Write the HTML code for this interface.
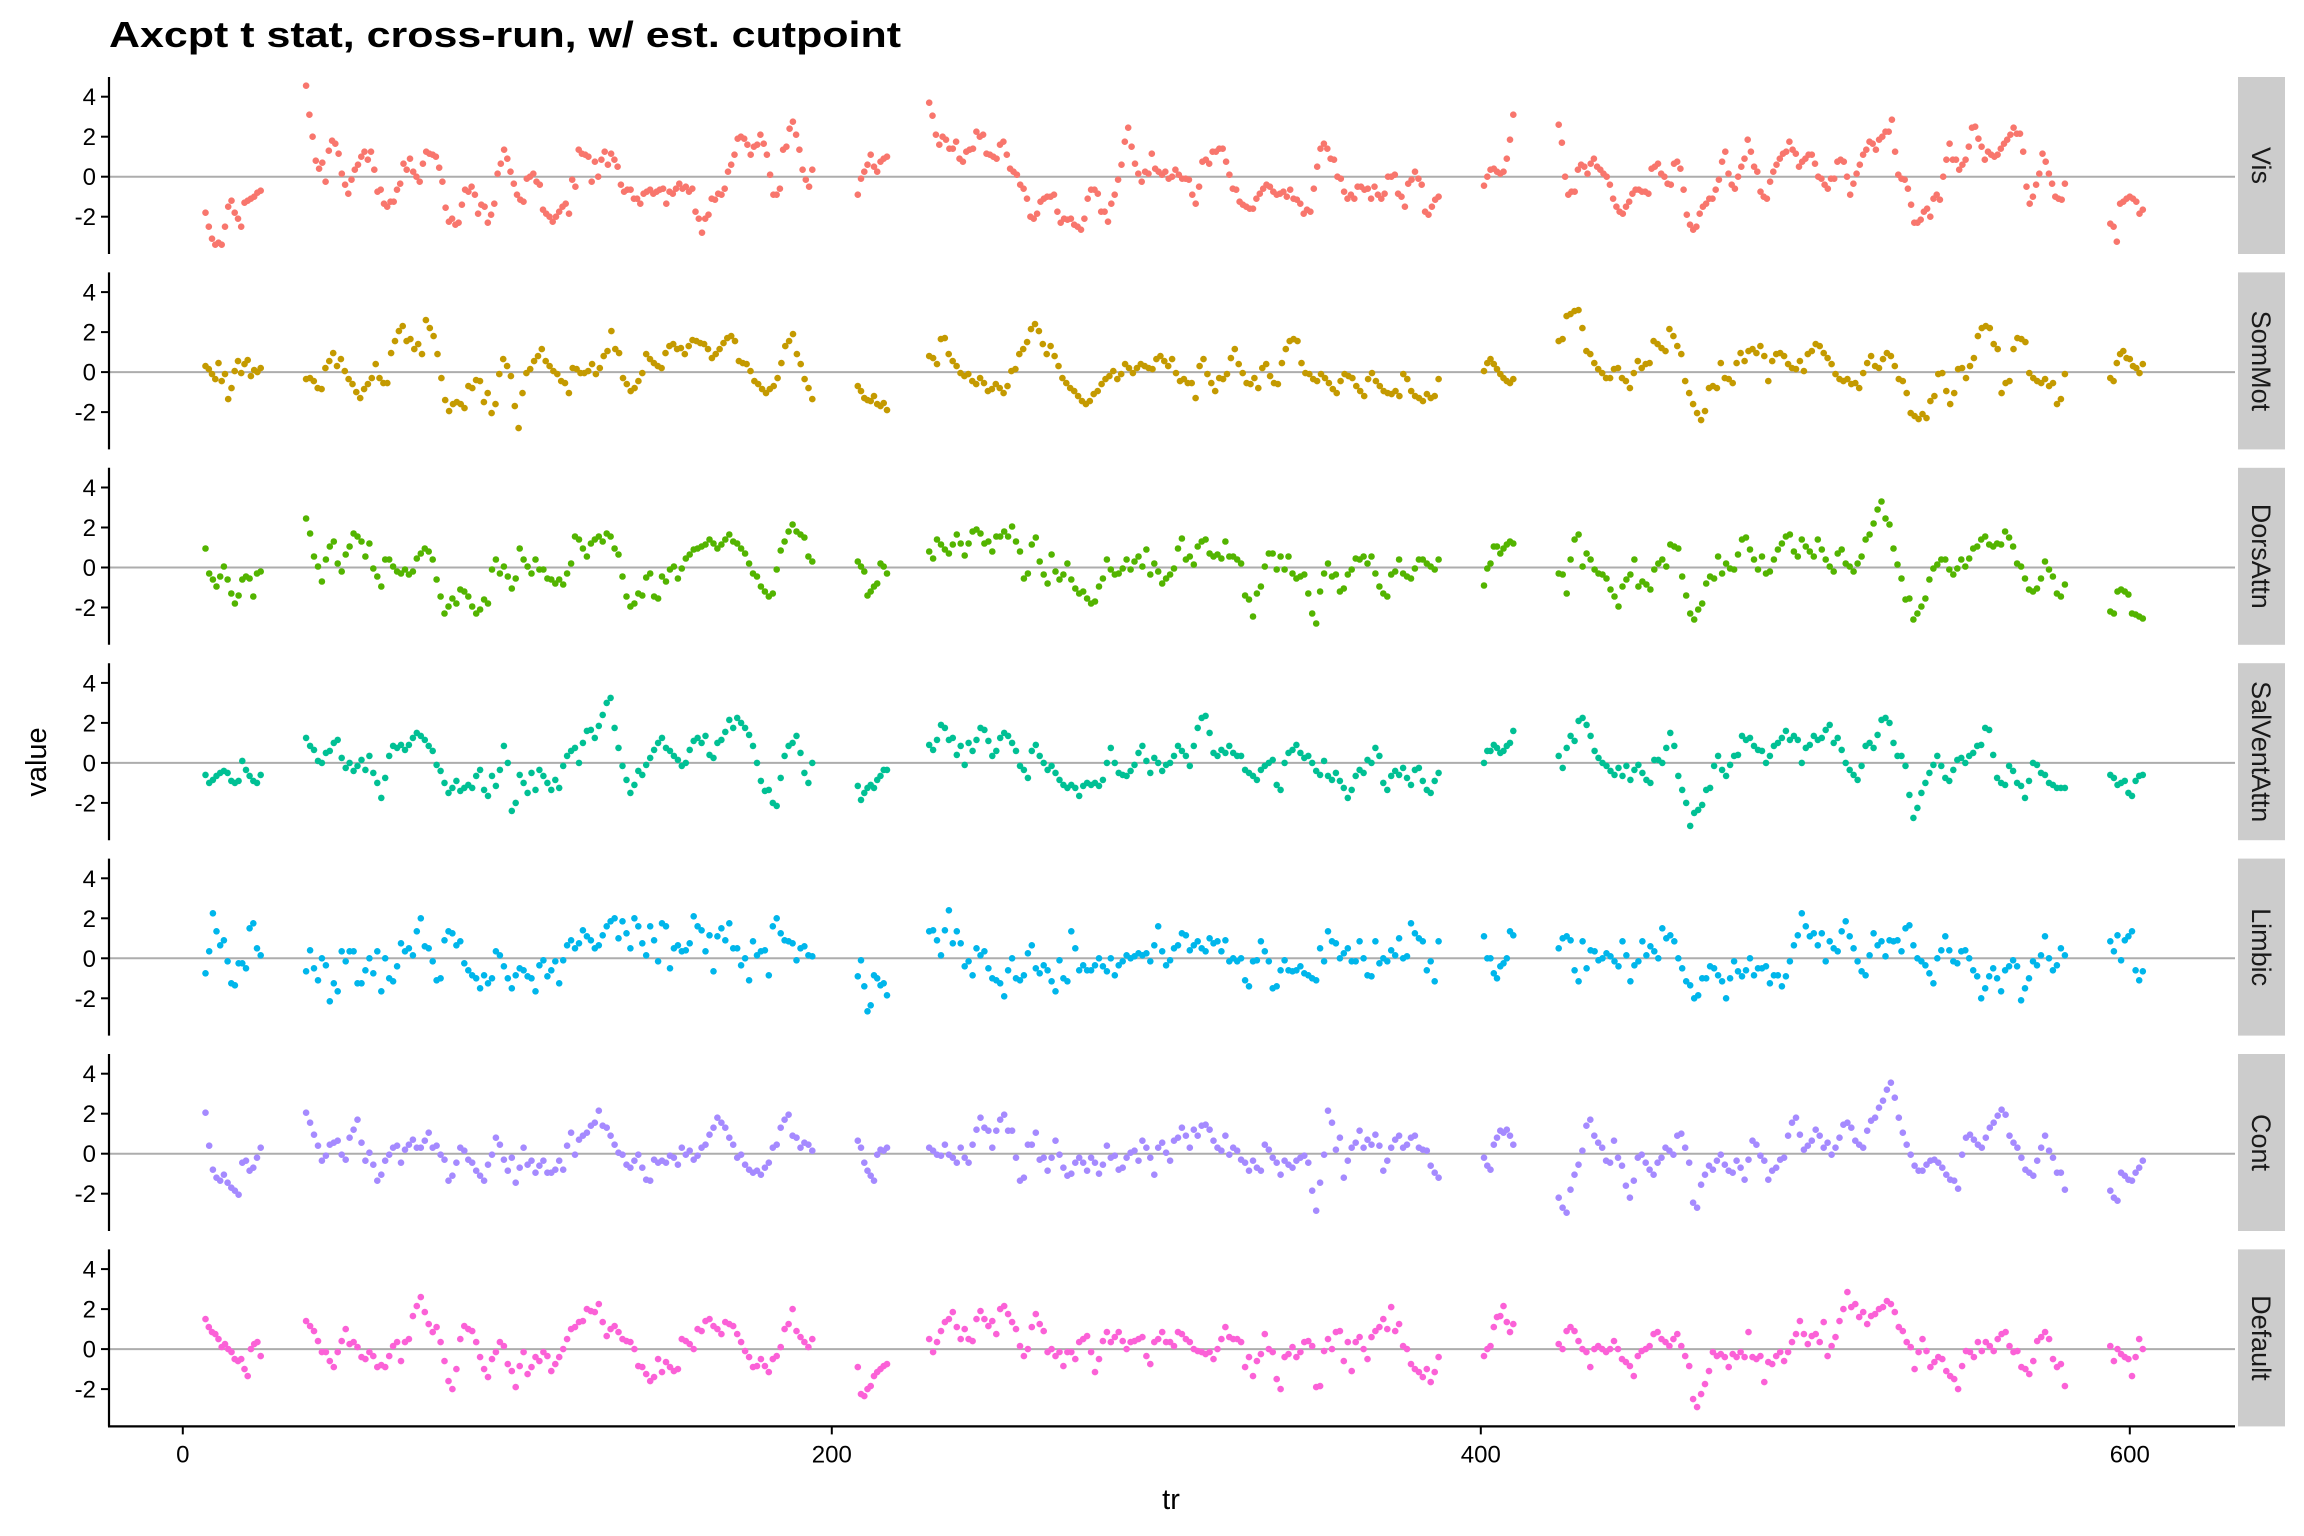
<!DOCTYPE html>
<html><head><meta charset="utf-8"><style>
html,body{margin:0;padding:0;background:#fff;}
svg{display:block;font-family:"Liberation Sans",Arial,sans-serif;}
</style></head><body>
<svg id="chart" width="2304" height="1536" viewBox="0 0 2304 1536" xmlns="http://www.w3.org/2000/svg">
<text x="109" y="47" font-size="36" font-weight="bold" fill="#000" textLength="792" lengthAdjust="spacingAndGlyphs">Axcpt t stat, cross-run, w/ est. cutpoint</text>
<text x="1171" y="1509" font-size="29" text-anchor="middle" fill="#000">tr</text>
<text x="0" y="0" font-size="29" text-anchor="middle" fill="#000" transform="translate(46,762) rotate(-90)">value</text>
</svg>
<script>
const panelNames = ["Vis","SomMot","DorsAttn","SalVentAttn","Limbic","Cont","Default"];
const panelColors = ["#F8766D","#C49A00","#53B400","#00C094","#00B6EB","#A58AFF","#FB61D7"];
const segStarts = [7,38,208,230,401,424,594];
const segEnds = [24,194,217,387,410,580,604];
const xTicks = [0,200,400,600];
const yTicks = [4,2,0,-2];

const visData = [
[-1.8,-2.5,-3.1,-3.4,-3.3,-3.4,-2.5,-1.5,-1.2,-1.8,-2.1,-2.5,-1.3,-1.2,-1.1,-1.0,-0.8,-0.7],
[4.55,3.1,2.0,0.8,0.4,0.7,-0.25,1.3,1.8,1.65,1.15,0.15,-0.4,-0.85,-0.15,0.35,0.6,1.0,1.25,0.85,1.25,0.35,-0.75,-0.65,-1.35,-1.5,-1.25,-1.25,-0.65,-0.35,0.65,0.35,0.9,0.25,0,-0.25,0.65,1.25,1.15,1.1,1.0,0.45,-0.25,-1.55,-2.25,-2.1,-2.4,-2.3,-1.4,-0.65,-0.75,-0.5,-0.9,-1.85,-1.4,-1.5,-2.3,-1.9,-1.35,0.15,0.65,1.35,0.9,0.25,-0.35,-0.9,-1.15,-1.25,-0.1,0,0.15,-0.25,-0.4,-1.65,-1.85,-2.0,-2.25,-2.0,-1.75,-1.5,-1.35,-1.85,-0.15,-0.5,1.35,1.15,1.1,1.0,-0.25,0.75,0,0.85,1.25,0.6,1.15,0.85,0.5,-0.4,-0.75,-0.65,-0.65,-1.1,-1.1,-1.35,-0.85,-0.75,-0.65,-0.85,-0.75,-0.65,-0.6,-1.35,-0.75,-0.85,-0.6,-0.35,-0.6,-0.5,-0.75,-0.6,-1.75,-2.1,-2.8,-2.1,-1.9,-1.1,-1.15,-0.85,-0.9,-0.6,0.25,0.6,1.1,1.9,2.0,1.9,1.6,1.1,1.5,1.6,2.1,1.65,1.1,0.1,-0.9,-0.9,-0.6,1.35,1.5,2.4,2.75,2.1,1.35,0.35,-0.15,-0.5,0.35],
[-0.9,-0.1,0.25,0.6,1.1,0.5,0.25,0.75,0.9,1.0],
[3.7,3.05,2.1,1.6,2.0,1.85,1.4,1.4,1.75,0.9,0.75,1.25,1.35,1.4,2.25,2.0,2.1,1.15,1.1,1.0,0.9,1.6,1.75,1.1,0.4,0.25,0.1,-0.4,-0.6,-1.1,-2.0,-2.1,-1.85,-1.25,-1.1,-1.0,-1.0,-0.9,-1.75,-2.3,-2.1,-2.15,-2.1,-2.4,-2.5,-2.65,-2.1,-1.1,-0.65,-0.65,-0.85,-1.75,-1.75,-2.25,-1.35,-0.9,-0.15,0.6,1.75,2.45,1.5,0.65,0.15,-0.25,0.25,0.15,1.15,0.4,0.25,0.1,0.25,-0.1,0,0.35,0.1,-0.1,-0.1,-0.15,-0.9,-1.35,-0.5,0.75,0.85,0.65,1.25,1.25,1.4,1.4,0.75,0.1,-0.6,-0.65,-1.25,-1.4,-1.5,-1.6,-1.6,-1.1,-0.85,-0.6,-0.4,-0.5,-0.75,-0.9,-0.85,-0.75,-1.0,-0.65,-1.1,-1.15,-1.35,-1.85,-1.65,-1.75,-0.6,0.5,1.4,1.65,1.4,0.9,0.85,0,-0.1,-0.75,-1.1,-0.9,-1.1,-0.5,-0.5,-0.65,-0.6,-1.1,-0.5,-0.9,-1.1,-0.85,0,0,0.1,-0.85,-1.0,-1.5,-0.35,-0.15,0.25,-0.1,-0.4,-1.75,-1.9,-1.5,-1.15,-1.0],
[-0.45,0,0.35,0.4,0.25,0.15,0.25,0.9,1.85,3.1],
[2.6,1.7,0,-0.9,-0.75,-0.75,0.35,0.6,0.5,0.15,0.65,0.9,0.5,0.35,0.15,0,-0.4,-1.1,-1.5,-1.75,-1.85,-1.5,-1.25,-0.85,-0.65,-0.65,-0.75,-0.75,-0.85,0.4,0.5,0.65,0.15,0,-0.35,-0.4,0.65,0.75,0.4,-0.65,-1.9,-2.4,-2.65,-2.5,-1.85,-1.5,-1.35,-1.1,-1.1,-0.65,-0.15,0.75,1.25,0.15,-0.4,-0.6,0,0.5,0.9,1.85,1.25,0.5,0.25,-0.75,-1.0,-1.1,-0.25,0.25,0.6,0.9,1.15,1.25,1.75,1.35,1.15,0.5,0.75,0.9,1.1,1.1,0.65,0,-0.1,-0.4,-0.6,-0.1,-0.1,0.75,0.85,0.75,0,-0.9,-0.35,0.15,0.6,1.1,1.35,1.75,1.65,1.35,1.85,2.0,2.25,2.25,2.85,1.25,0.1,-0.1,-0.15,-0.6,-1.4,-2.3,-2.3,-2.15,-1.75,-1.6,-2.0,-1.1,-0.9,-1.15,0,0.85,1.65,0.85,0.85,0.35,0.6,0.85,1.5,2.45,2.5,1.9,1.5,0.85,1.25,1.1,1.0,1.1,1.4,1.65,1.85,2.1,2.45,2.15,2.15,1.25,-0.5,-1.35,-1.0,-0.4,0.15,1.15,0.75,0.15,-0.35,-1.0,-1.1,-1.15,-0.35],
[-2.35,-2.5,-3.25,-1.35,-1.25,-1.1,-1.0,-1.1,-1.25,-1.85,-1.65]
];

const somMotData = [
[0.3,0.15,-0.1,-0.35,0.45,-0.45,-0.1,-1.35,-0.8,0.05,0.55,-0.05,0.4,0.6,-0.2,0.1,0.0,0.2],
[-0.35,-0.3,-0.45,-0.8,-0.85,0.2,0.55,0.95,0.3,0.65,0.05,-0.35,-0.6,-1.0,-1.3,-0.85,-0.6,-0.3,0.4,-0.3,-0.55,-0.55,0.95,1.55,2.05,2.3,1.55,1.65,1.15,1.4,0.9,2.6,2.2,1.8,0.9,-0.3,-1.4,-1.95,-1.6,-1.5,-1.6,-1.8,-0.7,-0.8,-0.4,-0.45,-1.5,-1.05,-2.05,-1.6,-0.1,0.65,0.3,-0.2,-1.7,-2.8,-1.05,-0.05,0.15,0.55,0.8,1.15,0.55,0.3,0.05,-0.1,-0.45,-0.55,-1.05,0.2,0.15,-0.05,-0.05,0.05,0.4,-0.1,0.2,0.8,1.05,2.05,1.15,0.95,-0.3,-0.6,-0.95,-0.8,-0.45,-0.05,0.9,0.65,0.45,0.3,0.2,0.95,1.3,1.4,1.15,1.2,0.9,1.3,1.6,1.55,1.45,1.4,1.15,0.7,0.9,1.15,1.45,1.7,1.8,1.55,0.55,0.45,0.4,0.05,-0.45,-0.6,-0.85,-1.05,-0.85,-0.7,-0.3,0.45,1.3,1.55,1.9,0.9,0.4,-0.35,-0.8,-1.35],
[-0.7,-0.95,-1.3,-1.4,-1.45,-1.2,-1.6,-1.7,-1.55,-1.9],
[0.8,0.7,0.4,1.65,1.7,0.9,0.55,0.3,-0.05,-0.2,-0.1,-0.45,-0.6,-0.3,-0.55,-0.95,-0.85,-0.6,-0.8,-1.05,-0.7,0.05,0.15,0.9,1.15,1.5,2.15,2.4,2.05,1.4,0.9,1.3,0.8,0.3,-0.3,-0.55,-0.8,-0.95,-1.2,-1.45,-1.6,-1.45,-1.1,-0.95,-0.6,-0.35,-0.2,0.05,-0.35,-0.1,0.4,0.2,-0.05,0.2,0.4,0.3,0.2,0.15,0.65,0.8,0.55,0.3,0.65,-0.05,-0.45,-0.35,-0.55,-0.55,-1.3,0.3,0.65,-0.1,-0.55,-0.95,-0.3,-0.35,-0.1,0.7,1.15,0.4,-0.05,-0.55,-0.6,-0.3,-0.8,0.2,0.4,-0.2,-0.55,-0.6,0.45,1.15,1.55,1.65,1.55,0.45,-0.05,-0.1,-0.35,-0.45,-0.1,-0.3,-0.55,-0.85,-1.05,-0.45,-0.1,-0.2,-0.3,-0.7,-0.95,-1.2,-0.35,-0.05,-0.45,-0.7,-0.95,-1.05,-1.1,-0.95,-1.2,-0.1,-0.35,-0.95,-1.2,-1.3,-1.45,-1.1,-1.3,-1.2,-0.35],
[0.05,0.45,0.65,0.4,0.15,-0.1,-0.3,-0.45,-0.55,-0.35],
[1.55,1.65,2.8,2.9,3.05,3.1,2.2,1.05,0.9,0.45,0.15,-0.05,-0.3,-0.3,0.15,0.2,-0.3,-0.45,-0.8,-0.05,0.55,0.2,0.4,0.45,1.55,1.4,1.2,1.05,2.15,1.8,1.3,0.9,-0.45,-1.05,-1.6,-2.05,-2.4,-1.95,-0.8,-0.7,-0.8,0.45,-0.3,-0.35,-0.55,0.45,0.95,0.55,1.05,1.15,0.95,1.3,0.8,-0.45,0.55,0.9,0.95,0.8,0.4,0.2,0.15,0.55,0.05,0.9,1.05,1.4,1.3,0.95,0.7,0.4,-0.1,-0.35,-0.45,-0.35,-0.6,-0.55,-0.8,-0.05,0.45,0.8,0.3,0.2,0.65,0.95,0.8,0.3,-0.35,-0.45,-1.05,-2.05,-2.2,-2.35,-2.1,-2.3,-1.45,-1.2,-0.1,-0.05,-0.95,-1.6,-1.05,0.15,0.2,-0.3,0.3,0.7,1.8,2.2,2.3,2.2,1.4,1.15,-1.05,-0.55,-0.45,1.15,1.7,1.65,1.5,-0.05,-0.3,-0.45,-0.55,-0.35,-0.7,-0.55,-1.6,-1.35,-0.1],
[-0.3,-0.45,0.45,0.9,1.05,0.7,0.65,0.3,0.2,-0.05,0.4]
];

const dorsAttnData = [
[0.95,-0.3,-0.6,-0.95,-0.45,0.05,-0.6,-1.3,-1.8,-1.4,-0.6,-0.45,-0.55,-1.45,-0.3,-0.2],
[2.45,1.7,0.55,0.05,-0.7,0.4,1.05,1.3,0.2,-0.2,0.65,1.05,1.7,1.55,1.3,0.55,1.2,-0.05,-0.45,-0.95,0.4,0.4,0.05,-0.2,-0.3,-0.1,-0.35,-0.2,0.45,0.7,0.95,0.8,0.4,-0.6,-1.45,-2.3,-1.95,-1.55,-1.8,-1.1,-1.2,-1.45,-1.95,-2.3,-2.1,-1.6,-1.8,-0.1,0.4,-0.3,0.05,-0.45,-1.05,-0.55,0.95,0.4,0.05,-0.3,0.4,-0.1,-0.1,-0.55,-0.6,-0.8,-0.6,-0.85,-0.3,0.2,1.55,1.4,0.95,0.55,1.2,1.4,1.55,1.3,1.7,1.55,0.95,0.65,-0.45,-1.45,-1.95,-1.8,-1.3,-1.4,-0.5,-0.3,-1.45,-1.55,-0.45,-0.7,-0.1,0.05,-0.55,-0.05,0.45,0.65,0.9,0.95,1.05,1.15,1.4,1.2,0.95,1.15,1.4,1.65,1.3,1.2,0.95,0.7,0.2,-0.3,-0.45,-0.95,-1.2,-1.45,-1.3,-0.1,0.85,1.3,1.8,2.15,1.8,1.65,1.5,0.55,0.3],
[0.3,0.05,-0.2,-1.4,-1.2,-0.95,-0.8,0.2,0.05,-0.3],
[0.8,0.45,1.4,1.15,0.9,0.7,1.15,1.65,1.2,0.6,1.2,1.8,1.9,1.7,1.2,1.3,0.8,1.55,1.55,1.8,1.55,2.05,1.3,0.8,-0.55,-0.3,1.15,1.5,0.3,-0.35,-0.8,0.65,-0.2,-0.6,-0.35,0.2,-0.6,-1.05,-1.3,-1.2,-1.55,-1.8,-1.7,-0.95,-0.55,0.4,-0.1,-0.35,-0.3,-0.05,0.4,-0.1,0.3,0.55,0.05,0.9,-0.35,0.2,-0.2,-0.8,-0.55,-0.35,-0.05,0.95,1.45,0.4,0.55,0.15,1.05,1.3,1.4,0.7,0.55,0.65,0.45,1.3,0.55,0.55,0.4,0.2,-1.4,-1.6,-2.45,-1.3,-0.95,0.05,0.7,0.7,-0.1,0.55,-0.1,0.55,-0.3,-0.55,-0.45,-0.35,-1.3,-2.3,-2.8,-1.2,-0.3,0.2,-0.45,-0.35,-1.2,-1.05,-0.35,-0.1,0.45,0.4,0.55,0.2,0.55,-0.3,-0.95,-1.3,-1.45,-0.35,-0.2,0.4,-0.3,-0.45,-0.55,-0.05,0.4,0.4,0.2,0.05,-0.1,0.4],
[-0.9,-0.05,0.2,1.05,1.05,0.7,0.95,1.15,1.3,1.2],
[-0.3,-0.35,-1.3,0.4,1.4,1.65,0.05,0.7,0.4,-0.1,-0.3,-0.35,-0.55,-1.1,-1.45,-1.95,-0.95,-0.6,-0.35,0.4,-0.95,-0.7,-0.85,-1.1,-0.1,0.2,0.4,0.05,1.15,1.05,0.95,-0.45,-1.4,-2.3,-2.6,-2.1,-1.8,-0.8,-0.45,-0.55,0.55,-0.3,0.2,-0.05,-0.1,0.65,1.4,1.5,0.9,0.4,-0.1,0.55,-0.3,-0.2,0.4,0.9,1.2,1.55,1.65,0.8,0.55,1.4,1.05,0.8,0.55,1.4,0.9,0.4,0.05,-0.2,0.7,0.9,0.2,0.05,-0.2,0.2,0.55,1.4,1.65,2.2,2.9,3.3,2.45,2.15,0.95,0.15,-0.55,-1.6,-1.55,-2.6,-2.3,-1.95,-1.55,-0.6,-0.05,0.15,0.4,0.4,-0.1,-0.35,-0.05,0.4,0.05,0.45,0.95,1.05,1.4,1.55,1.15,1.05,1.2,1.15,1.8,1.5,1.05,0.2,0.05,-0.55,-1.1,-1.2,-1.05,-0.55,0.3,-0.1,-0.45,-1.3,-1.45,-0.85],
[-2.2,-2.3,-1.2,-1.1,-1.2,-1.35,-2.3,-2.35,-2.45,-2.55]
];

const salVentData = [
[-0.6,-1.0,-0.85,-0.65,-0.5,-0.4,-0.5,-0.9,-1.0,-0.9,0.1,-0.35,-0.65,-0.9,-1.0,-0.6],
[1.25,0.85,0.65,0.1,0,0.5,0.6,1.0,1.15,0.25,-0.25,0,-0.4,-0.15,0.15,-0.35,0.35,-0.5,-1.0,-1.75,-0.75,0.35,0.85,0.75,0.9,0.65,0.9,1.25,1.5,1.35,1.15,0.85,0.6,-0.1,-0.4,-1.0,-1.5,-1.25,-0.9,-1.4,-1.25,-1.1,-1.25,-0.65,-0.35,-1.35,-1.65,-0.65,-1.15,-0.35,0.85,0,-2.4,-2.0,-0.6,-1.0,-1.5,-0.5,-1.35,-0.35,-0.65,-1.0,-1.35,-0.85,-1.25,-0.15,0.35,0.6,0.75,0,1.0,1.6,1.65,1.25,1.85,2.4,3.0,3.25,1.75,0.75,-0.15,-0.85,-1.5,-1.1,-0.4,-0.6,-0.1,0.25,0.65,1.0,1.25,0.75,0.6,0.35,0.15,-0.15,0,0.65,1.1,1.25,1.0,1.35,0.4,0.25,1.0,1.15,1.55,2.15,1.75,2.25,2.0,1.75,1.4,0.85,0,-0.9,-1.4,-1.35,-2.0,-2.15,-0.75,0.35,0.85,1.0,1.35,0.5,-0.5,-1.0,0],
[-1.15,-1.85,-1.5,-1.25,-1.1,-1.25,-0.85,-0.65,-0.35,-0.35],
[0.9,0.65,1.15,1.9,1.75,1.15,1.25,0.4,0.85,-0.1,1.0,0.6,1.15,1.75,1.65,1.1,0.35,0.6,1.25,1.5,1.35,1.0,0.6,-0.15,-0.35,-0.75,0.6,0.9,0.35,0,-0.35,-0.15,-0.5,-0.85,-1.1,-1.25,-1.1,-1.25,-1.65,-1.15,-1.0,-1.1,-1.0,-1.15,-0.85,0,0.75,0,-0.5,-0.6,-0.65,-0.4,-0.1,0.5,0.85,0.1,-0.5,0.25,0,-0.4,-0.1,0,0.35,0.85,0.6,0.35,-0.15,0.85,1.75,2.25,2.35,1.5,0.5,0.35,0.65,0.5,0.85,0.5,0.35,0.35,-0.35,-0.5,-0.65,-0.85,-0.35,-0.15,0,0.15,-1.1,-1.35,0,0.5,0.65,0.9,0.5,0.25,0.35,0,-0.4,-0.6,0.1,-0.65,-0.85,-0.5,-0.9,-1.25,-1.75,-1.35,-0.65,-0.35,-0.5,0.15,0,0.75,0.35,-1.0,-1.35,-0.65,-0.4,-0.6,-0.25,-0.75,-1.1,-0.35,-0.25,-0.9,-1.35,-1.5,-0.9,-0.5],
[0,0.6,0.6,0.9,0.75,0.5,0.6,0.85,1.0,1.6],
[0.35,-0.25,0.75,1.35,1.1,2.1,2.25,1.9,1.35,0.6,0.25,0,-0.15,-0.4,-0.6,-0.25,-0.65,-0.15,-0.85,-0.35,-0.1,-0.5,-0.85,-1.0,0.15,0.15,0,0.75,1.5,0.85,-0.65,-1.35,-2.0,-3.15,-2.5,-2.35,-2.1,-1.35,-1.25,-0.15,0.35,-0.35,-0.65,-0.1,0.35,0.4,1.35,1.15,1.25,0.85,0.65,0.6,0,0.35,0.85,1.0,1.25,1.6,1.15,1.35,1.15,0,0.75,0.9,1.35,1.15,1.25,1.65,1.9,1.0,1.25,0.65,0,-0.35,-0.6,-0.85,-0.15,0.85,1.0,0.75,1.4,2.15,2.25,2.0,1.0,0.35,0.35,-0.15,-1.6,-2.75,-2.25,-1.5,-1.0,-0.5,-0.1,0.35,-0.15,-0.75,-0.9,-0.35,0.15,0.25,0,0.35,0.5,0.85,0.9,1.75,1.65,0.4,-0.75,-1.0,-1.1,-0.15,-0.4,-1.0,-1.15,-1.75,-0.9,0,-0.1,-0.5,-0.6,-1.0,-1.1,-1.25,-1.25,-1.25],
[-0.6,-0.75,-1.1,-1.0,-0.9,-1.5,-1.65,-0.9,-0.65,-0.6]
];

const limbicData = [
[-0.75,0.35,2.25,1.35,0.65,0.9,-0.15,-1.25,-1.35,-0.25,-0.25,-0.5,1.5,1.75,0.5,0.15],
[-0.65,0.4,-0.5,-1.1,0,-0.35,-2.15,-1.25,-1.65,0.35,-0.15,0.35,0.35,-1.25,-1.25,-0.6,0,-0.75,0.35,-1.65,0,-1.0,-1.15,-0.4,0.75,0.35,0.5,0.15,1.35,2.0,0.6,0.5,-0.15,-1.1,-1.0,0.9,1.35,1.25,0.65,0.85,-0.25,-0.6,-0.85,-1.0,-1.5,-0.85,-1.25,-1.0,0.35,0.15,-0.4,-1.0,-1.5,-0.85,-0.5,-0.6,-0.9,-1.0,-1.65,-0.35,-0.1,-0.9,-0.6,-0.15,-1.25,-0.1,0.65,0.9,0.5,0.75,1.4,1.1,0.9,0.5,0.65,1.15,1.6,1.85,2.0,1.0,1.85,1.25,0.5,2.0,1.6,0.75,0.15,1.6,0.9,-0.15,1.75,1.6,-0.5,0.5,0.65,0.35,0.4,0.75,2.1,1.6,1.4,0.35,1.15,-0.65,1.1,1.5,0.9,1.75,0.5,0.5,-0.35,0,-1.1,0.85,0.15,0.35,0.4,-0.85,1.6,2.0,1.25,0.9,0.85,0.75,-0.1,0.5,0.6,0.15,0.1],
[-0.9,-0.1,-1.4,-2.65,-2.35,-0.85,-1.0,-1.35,-1.25,-1.85],
[1.35,1.4,0.9,0.15,1.4,2.4,0.75,1.35,0.75,-0.4,-0.15,-0.85,0.5,0.15,0.35,-0.5,-1.0,-1.1,-1.25,-1.9,-0.6,0,-1.0,-1.1,-0.85,0.25,0.65,-0.5,-0.75,-0.35,-0.6,-1.15,-1.65,-0.1,-1.0,-1.15,1.35,0.5,-0.6,-0.35,-0.6,-0.6,-0.35,0,-0.4,-0.65,0,-0.85,-0.35,-0.15,0.15,0,0.1,0.25,0.15,0.25,-0.15,0.65,1.6,0.35,-0.35,-0.1,0.5,0.65,1.25,1.15,0.4,0.65,0.85,0.5,0.35,1.0,0.75,0.85,0.35,0.9,-0.15,0,-0.15,0,-1.1,-1.4,-0.15,-0.1,0.85,0.35,-0.15,-1.5,-1.4,-0.6,-0.1,-0.6,-0.65,-0.6,-0.4,-0.75,-0.85,-1.0,-1.1,0.5,-0.15,1.35,0.85,0.75,0,0.25,0.5,-0.15,-0.15,0.85,0,-0.85,-0.9,0.85,-0.25,0,-0.15,0.4,0.15,1.0,0,0.1,1.75,1.25,1.0,0.85,-0.6,-0.15,-1.15,0.85],
[1.1,0,0,-0.75,-1.0,-0.4,-0.25,0,1.35,1.15],
[0.5,1.0,1.1,0.9,-0.6,-1.15,0.85,-0.5,0.4,0.35,-0.1,0,0.25,0.1,-0.15,-0.4,0.85,0.15,-1.15,-0.35,-0.15,0.85,0.15,0.6,0.35,0,1.5,1.0,1.15,0.85,0,-0.5,-1.15,-1.35,-2.0,-1.85,-1.0,-1.0,-0.4,-0.5,-0.85,-1.15,-2.0,-1.0,-0.15,-0.65,-0.9,-0.6,0,-0.85,-0.5,-0.5,-0.4,-1.25,-0.85,-0.85,-1.4,-0.9,-0.15,0.65,1.15,2.25,1.6,1.1,1.25,0.65,1.25,-0.15,0.85,0.5,0.35,1.35,1.85,1.1,0.5,-0.15,-0.65,-0.85,0.15,1.25,0.65,0.85,0.1,0.9,0.85,0.9,0.35,1.5,1.65,0.65,0,-0.15,-0.35,-0.75,-1.25,0,0.4,1.1,0.4,-0.15,-0.25,0.35,0.4,0,-0.6,-0.9,-2.0,-1.5,-0.9,-0.5,-1.0,-1.65,-0.6,-0.4,-0.1,-0.4,-2.1,-1.5,-1.0,-0.15,-0.35,0.15,1.1,0,-0.6,-0.35,0.5,0.15],
[0.85,0.35,1.15,-0.1,0.9,1.1,1.35,-0.6,-1.1,-0.65]
];

const contData = [
[2.05,0.4,-0.8,-1.2,-1.35,-1.05,-1.45,-1.7,-1.85,-2.05,-0.45,-0.35,-0.85,-0.7,-0.2,0.3],
[2.05,1.55,0.95,0.4,-0.35,-0.1,0.45,0.55,0.65,-0.05,-0.3,0.8,1.2,1.7,0.55,-0.35,0.05,-0.55,-1.35,-1.05,-0.35,-0.05,0.3,0.4,-0.45,0.2,0.45,0.7,0.3,0.3,0.65,1.05,0.3,0.4,-0.05,-0.3,-1.35,-1.1,-0.45,0.3,0.15,-0.3,-0.45,-0.85,-1.1,-1.35,-0.55,-0.05,0.8,0.45,-0.3,-0.85,-0.2,-1.45,-0.7,0.3,-0.55,-0.35,-0.95,-0.6,-0.35,-0.95,-0.95,-0.8,-0.35,-0.8,0.4,1.05,-0.05,0.7,0.9,1.05,1.4,1.55,2.15,1.4,1.3,0.9,0.45,0.05,-0.05,-0.55,-0.7,-0.35,-0.05,-0.7,-1.3,-1.35,-0.3,-0.45,-0.35,-0.45,-0.1,-0.2,-0.55,0.3,-0.05,0.15,-0.3,-0.1,0.3,0.45,0.95,1.3,1.8,1.55,1.3,0.8,0.45,-0.2,-0.05,-0.55,-0.8,-0.95,-0.85,-1.05,-0.7,-0.45,0.3,0.45,1.3,1.7,1.95,0.9,0.8,0.3,0.55,0.45,0.15],
[0.65,0.3,-0.45,-0.85,-1.1,-1.35,-0.05,0.2,0.15,0.3],
[0.3,0.15,-0.05,-0.1,0.45,-0.05,-0.2,-0.45,0.3,-0.2,-0.45,0.45,1.2,1.8,1.3,1.15,0.3,1.15,1.7,1.95,1.15,1.15,-0.2,-1.35,-1.2,0.45,0.45,1.05,-0.3,-0.2,-0.85,-0.2,0.65,-0.05,-0.7,-1.1,-1.0,-0.45,-0.2,-0.45,-0.85,-0.2,-0.45,-1.0,-0.55,0.4,-0.2,-0.1,-0.8,-0.7,-0.2,0.05,0.15,-0.35,0.65,0.3,-0.2,-1.05,0.3,0.55,0.05,-0.35,0.65,0.8,1.3,0.9,0.3,1.2,0.9,1.4,1.45,1.2,0.65,0.3,0.15,0.9,-0.05,0.3,0.15,-0.3,-0.45,-0.85,-0.35,-0.7,-0.85,0.45,0.2,-0.2,-0.45,-1.05,-0.35,-0.55,-0.7,-0.35,-0.2,-0.1,-0.45,-1.85,-2.85,-1.45,-0.05,2.15,1.55,0.2,0.8,-1.2,-0.35,0.3,0.55,1.15,0.3,0.7,0.45,0.95,0.4,-0.85,-0.35,0.3,0.7,0.9,0.3,0.45,0.8,0.9,0.3,0.2,0.15,-0.6,-0.95,-1.2],
[-0.2,-0.6,-0.8,0.45,0.8,1.15,1.05,1.2,0.9,0.45],
[-2.2,-2.7,-2.95,-1.8,-1.05,-0.55,0.15,1.4,1.7,0.9,0.55,0.3,-0.35,-0.45,0.65,-0.2,-0.6,-1.6,-2.2,-1.35,-0.2,-0.05,-0.45,-0.8,-1.05,-0.45,-0.2,0.3,0.15,-0.05,0.9,1.0,0.3,-0.45,-2.45,-2.7,-1.55,-1.05,-0.6,-0.8,-0.35,-0.05,-0.55,-0.85,-0.95,-0.35,-0.7,-1.3,-0.3,0.65,0.45,-0.1,-0.35,-1.3,-0.85,-0.7,-0.3,-0.2,0.9,1.55,1.8,0.95,0.2,0.4,0.65,1.2,0.9,0.3,0.55,-0.05,0.3,0.8,1.45,1.55,1.3,0.65,0.45,0.3,1.15,1.65,1.8,2.3,2.65,3.2,3.55,2.8,1.8,1.05,0.45,-0.05,-0.6,-0.85,-0.85,-0.55,-0.35,-0.3,-0.45,-0.7,-1.05,-1.3,-1.35,-1.75,-0.05,0.8,0.95,0.7,0.45,0.3,0.8,1.3,1.55,1.9,2.2,1.95,0.9,0.55,0.3,-0.2,-0.8,-0.95,-1.1,-0.35,0.3,0.9,0.15,-0.2,-0.95,-0.95,-1.8],
[-1.85,-2.2,-2.35,-0.95,-1.1,-1.3,-1.35,-0.95,-0.7,-0.35]
];

const defaultData = [
[1.5,1.1,0.85,0.75,0.5,0.1,0.25,0,-0.15,-0.5,-0.6,-0.5,-1.0,-1.35,0,0.25,0.35,-0.35],
[1.4,1.15,0.9,0.4,-0.15,-0.15,-0.6,-0.9,-0.15,0.4,1.0,0.25,0.35,0.1,-0.4,-0.5,-0.15,-0.35,-0.9,-0.8,-0.9,-0.35,0.15,0.35,-0.6,0.35,0.5,1.65,2.15,2.6,1.85,1.25,0.85,1.1,0.35,-0.6,-1.6,-2.0,-1.0,0.5,1.15,1.0,0.9,0.35,-0.4,-1.0,-1.4,-0.5,-0.15,0.35,0.15,-0.75,-1.1,-1.9,-0.85,-0.15,-1.25,-0.9,-0.4,-0.6,-0.15,-0.35,-1.1,-0.75,-0.4,0,0.5,1.0,1.1,1.35,1.4,2.0,1.9,1.85,2.25,1.35,0.65,1.0,1.15,0.85,0.5,0.4,0.35,0,-0.85,-0.9,-1.25,-1.6,-1.4,-0.5,-1.15,-0.65,-0.9,-1.1,-1.0,0.5,0.4,0.25,0,1.0,0.9,1.4,1.5,1.15,1.0,0.75,1.35,1.25,1.15,0.75,0.35,-0.1,-0.4,-0.9,-0.85,-0.5,-0.85,-1.15,-0.5,-0.35,0.1,1.0,1.25,2.0,0.9,0.6,0.35,0.1,0.5],
[-0.9,-2.25,-2.35,-2.0,-1.85,-1.35,-1.15,-1.0,-0.85,-0.75],
[0.5,-0.15,0.35,0.9,1.35,1.5,1.85,1.1,0.5,1.0,0.5,0.4,1.5,1.9,1.5,1.15,1.4,0.75,2.0,2.15,1.75,1.35,1.0,0.15,-0.35,0,1.1,1.75,1.25,0.9,-0.15,0,-0.35,-0.15,-0.85,-0.15,-0.15,-0.5,0.35,0.5,0.65,-0.15,-1.15,-0.5,0.4,0.85,0.35,0.6,0.85,0.4,0,0.35,0.4,0.5,0.6,-0.35,-0.75,0.35,0.5,0.85,0.35,0.35,0.15,0.85,0.75,0.5,0.35,0,-0.1,-0.15,-0.25,-0.15,-0.5,0,0.5,1.1,0.6,0.5,0.5,0.35,-0.9,-0.4,-1.35,-0.6,-0.25,0.75,0,-0.15,-1.5,-2.0,-0.4,-0.25,0.1,-0.4,-0.15,0.35,0.4,0.15,-1.9,-1.85,-0.1,0.5,0,0.85,0.9,-0.6,0.35,-1.1,0.35,0.6,0,-0.5,0.6,0.9,1.1,1.5,1.0,2.1,0.9,1.25,0.15,0,-0.75,-1.0,-1.15,-1.4,-1.0,-1.65,-1.15,-0.4],
[-0.35,0,0.15,1.1,1.6,1.65,2.15,1.35,0.85,1.25],
[0.25,0,0.9,1.1,0.9,0.4,0,-0.15,-0.9,0,0.15,0,-0.15,0,0.4,0,-0.5,-0.65,-0.85,-1.35,-0.35,-0.1,0,0.15,0.75,0.85,0.5,0.35,0.15,0.5,0.75,0.15,-0.35,-0.85,-2.5,-2.9,-2.25,-1.75,-1.1,-0.15,-0.35,-0.25,-0.4,-0.9,-0.25,-0.4,-0.15,-0.4,0.85,-0.4,-0.5,-0.35,-1.65,-0.65,-0.75,-0.35,-0.15,-0.6,-0.15,0.35,0.75,1.4,0.75,0.25,0.65,0.75,0.35,1.35,-0.35,0.15,0.6,1.4,2.0,2.85,2.1,2.25,1.6,1.85,1.25,1.65,1.75,2.0,2.1,2.4,2.25,1.85,1.1,0.9,0.35,0.1,-1.0,-0.15,0.5,-0.1,-0.9,-0.65,-0.4,-0.5,-1.1,-1.35,-1.5,-2.0,-0.85,-0.1,-0.15,-0.4,0.35,-0.1,0.35,0.15,-0.1,0.5,0.75,0.85,0.15,-0.15,-0.1,-0.9,-1.0,-1.25,-0.6,0.4,0.6,0.85,0.5,-0.5,-0.9,-0.75,-1.85],
[0.15,-0.6,0,-0.25,-0.4,-0.5,-1.35,-0.4,0.5,0]
];

const allData = [visData, somMotData, dorsAttnData, salVentData, limbicData, contData, defaultData];

const NS = "http://www.w3.org/2000/svg";
const svg = document.getElementById("chart");
const plotLeft = 109, plotRight = 2235;
const panelTop0 = 77, panelStep = 195.4, panelH = 177;
const zeroOffset = 99.7, unitPx = 20;
function xScale(tr){ return 182.8 + 3.245 * tr; }
function yScale(p, v){ return panelTop0 + p * panelStep + zeroOffset - v * unitPx; }
function mk(tag, attrs){ const e = document.createElementNS(NS, tag); for (const k in attrs) e.setAttribute(k, attrs[k]); return e; }

panelNames.forEach((name, p) => {
  const g = mk("g", {});
  
  
  svg.appendChild(g);
  const top = panelTop0 + p * panelStep;
  const zl = mk("line", {x1: plotLeft, x2: plotRight, y1: yScale(p, 0), y2: yScale(p, 0), stroke: "#adadad", "stroke-width": 2});
  
  
  g.appendChild(zl);
  const ax = mk("line", {x1: plotLeft, x2: plotLeft, y1: top, y2: top + panelH, stroke: "#000", "stroke-width": 2.2});
  
  
  g.appendChild(ax);
  yTicks.forEach(t => {
    const y = yScale(p, t);
    const tk = mk("line", {x1: plotLeft - 8, x2: plotLeft, y1: y, y2: y, stroke: "#000", "stroke-width": 2});
    
    
    g.appendChild(tk);
    const tl = mk("text", {x: plotLeft - 13, y: y + 8.5, "font-size": 24, "text-anchor": "end", fill: "#000"});
    tl.textContent = String(t);
    
    
    g.appendChild(tl);
  });
  const strip = mk("rect", {x: 2238, y: top, width: 47, height: panelH, fill: "#cccccc"});
  
  
  g.appendChild(strip);
  const st = mk("text", {x: 0, y: 0, "font-size": 27, "text-anchor": "middle", fill: "#1a1a1a", transform: "translate(2252," + (top + panelH / 2) + ") rotate(90)"});
  st.textContent = name;
  
  
  g.appendChild(st);
  const segs = allData[p];
  segs.forEach((vals, s) => {
    const a = segStarts[s], b = segEnds[s];
    const n = vals.length;
    vals.forEach((v, i) => {
      const tr = n > 1 ? a + i * (b - a) / (n - 1) : a;
      const c = mk("circle", {cx: xScale(tr).toFixed(1), cy: yScale(p, v).toFixed(1), r: 3.3, fill: panelColors[p]});
      
      
      g.appendChild(c);
    });
  });
});

const bottomY = panelTop0 + 6 * panelStep + panelH;
const xa = mk("line", {x1: plotLeft - 1, x2: plotRight, y1: bottomY, y2: bottomY, stroke: "#000", "stroke-width": 2.2});


svg.appendChild(xa);
xTicks.forEach(t => {
  const x = xScale(t);
  const tk = mk("line", {x1: x, x2: x, y1: bottomY, y2: bottomY + 8, stroke: "#000", "stroke-width": 2});
  
  
  svg.appendChild(tk);
  const tl = mk("text", {x: x, y: bottomY + 36, "font-size": 24, "text-anchor": "middle", fill: "#000"});
  tl.textContent = String(t);
  
  
  svg.appendChild(tl);
});
</script>
</body></html>
